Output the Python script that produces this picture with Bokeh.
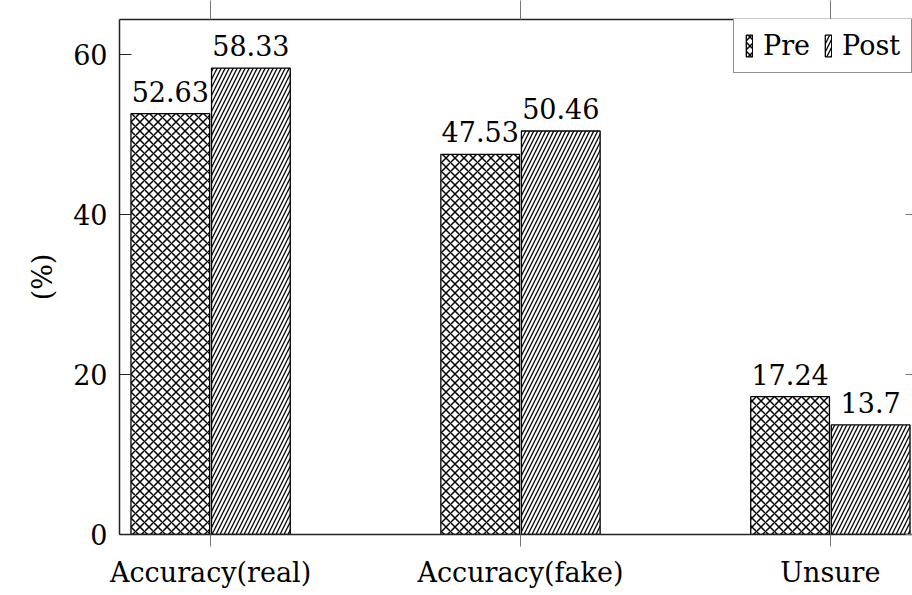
from bokeh.plotting import figure
from bokeh.models import (ColumnDataSource, Range1d, FixedTicker, LinearAxis,
                          Legend, LegendItem, LabelSet)
from bokeh.core.properties import value
from bokeh.transform import dodge
from bokeh.embed import file_html
from bokeh.resources import INLINE

categories = ["Accuracy(real)", "Accuracy(fake)", "Unsure"]
pre_values = [52.63, 47.53, 17.24]
post_values = [58.33, 50.46, 13.7]
y_ticks = [0, 20, 40, 60]
series_names = ["Pre", "Post"]

FONT = "DejaVu Serif"
FS = "27px"
LINE = "#222222"

idx = list(range(len(categories)))
src = ColumnDataSource(dict(
    x=idx,
    pre=pre_values,
    post=post_values,
    pre_lbl=[str(v) for v in pre_values],
    post_lbl=[str(v) for v in post_values],
))

p = figure(width=912, height=595, output_backend="svg", toolbar_location=None,
           x_range=Range1d(-0.294, 2.265), y_range=Range1d(0, 64.4),
           min_border_left=119, min_border_right=0, min_border_top=19,
           min_border_bottom=61, x_axis_location=None, y_axis_location=None)
p.background_fill_color = "white"
p.border_fill_color = "white"
p.outline_line_color = None
p.grid.visible = False

W = 0.254
OFF = 0.13
r_pre = p.vbar(x=dodge("x", -OFF), top="pre", width=W, source=src,
               fill_color="white", line_color="black", line_width=1.3,
               hatch_pattern="x", hatch_color="black", hatch_scale=9,
               hatch_weight=1.5)
r_post = p.vbar(x=dodge("x", OFF), top="post", width=W, source=src,
                fill_color="white", line_color="black", line_width=1.3,
                hatch_pattern="/", hatch_color="black", hatch_scale=8,
                hatch_weight=1.3)

for col, lbl, off in [("pre", "pre_lbl", -OFF), ("post", "post_lbl", OFF)]:
    ls = LabelSet(x=dodge("x", off), y=col, text=lbl, source=src,
                  text_font=value(FONT), text_font_size=value(FS),
                  text_align="center", text_baseline="alphabetic",
                  y_offset=12, text_color="black")
    p.add_layout(ls)

# left axis
ly = LinearAxis(ticker=FixedTicker(ticks=y_ticks), axis_label="(%)")
ly.major_tick_in = 12
ly.major_tick_out = 0
ly.minor_tick_line_color = None
ly.major_label_text_font = FONT
ly.major_label_text_font_size = FS
ly.major_label_text_color = "black"
ly.major_label_standoff = 12
ly.axis_label_text_font = FONT
ly.axis_label_text_font_size = FS
ly.axis_label_text_font_style = "normal"
ly.axis_label_text_color = "black"
ly.axis_label_standoff = 12
ly.axis_line_color = LINE
ly.axis_line_width = 1.5
ly.major_tick_line_color = LINE
ly.major_tick_line_width = 1
p.add_layout(ly, "left")

# bottom axis
bx = LinearAxis(ticker=FixedTicker(ticks=idx),
                major_label_overrides={i: c for i, c in zip(idx, categories)})
bx.major_tick_in = 0
bx.major_tick_out = 12
bx.minor_tick_line_color = None
bx.major_label_text_font = FONT
bx.major_label_text_font_size = FS
bx.major_label_text_color = "black"
bx.major_label_standoff = 10
bx.axis_line_color = LINE
bx.axis_line_width = 1.5
bx.major_tick_line_color = "#777777"
p.add_layout(bx, "below")

# top axis (frame top with outward ticks)
tx = LinearAxis(ticker=FixedTicker(ticks=idx))
tx.major_label_text_color = None
tx.major_label_text_font_size = "1px"
tx.major_label_standoff = 0
tx.major_tick_in = 0
tx.major_tick_out = 19
tx.minor_tick_line_color = None
tx.axis_line_color = LINE
tx.axis_line_width = 1.5
tx.major_tick_line_color = "#777777"
p.add_layout(tx, "above")

# right side inward ticks
ry = LinearAxis(ticker=FixedTicker(ticks=y_ticks))
ry.major_label_text_color = None
ry.major_label_text_font_size = "1px"
ry.major_label_standoff = 0
ry.major_tick_in = 7
ry.major_tick_out = 0
ry.minor_tick_line_color = None
ry.axis_line_color = None
ry.major_tick_line_color = "#777777"
p.add_layout(ry, "right")

legend = Legend(items=[LegendItem(label=series_names[0], renderers=[r_pre]),
                       LegendItem(label=series_names[1], renderers=[r_post])],
                orientation="horizontal", location=(614, 461))
legend.label_text_font = FONT
legend.label_text_font_size = FS
legend.label_text_color = "black"
legend.glyph_width = 8
legend.glyph_height = 27
legend.label_standoff = 10
legend.padding = 11
legend.spacing = 14
legend.margin = 0
legend.border_line_color = LINE
legend.border_line_width = 1.5
legend.background_fill_alpha = 1
p.add_layout(legend, "center")

open("out.html", "w").write(file_html(p, INLINE))
